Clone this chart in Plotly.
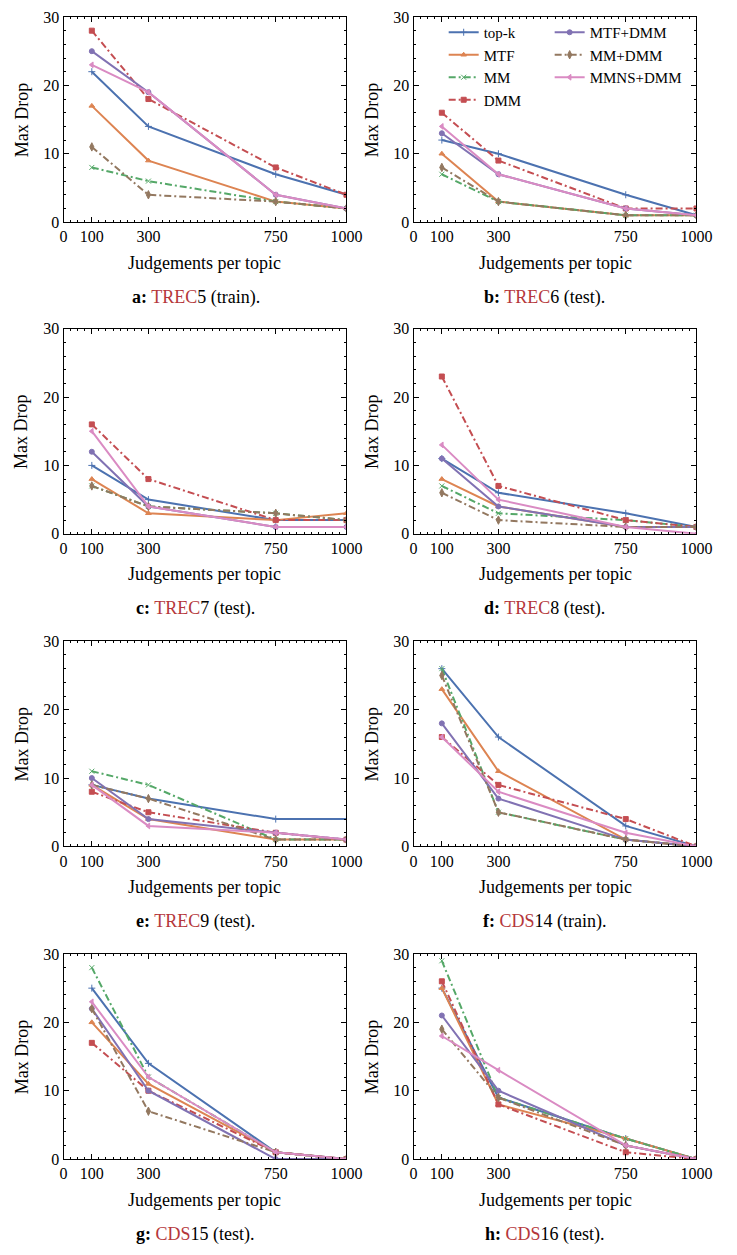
import plotly.graph_objects as go

# ---------------- data ----------------
judgements = [100, 300, 750, 1000]
x_tick_vals = [0, 100, 300, 750, 1000]
x_tick_text = ["0", "100", "300", "750", "1000"]
y_tick_vals = [0, 10, 20, 30]

panel_letters = ["a", "b", "c", "d", "e", "f", "g", "h"]
panel_collections = ["TREC", "TREC", "TREC", "TREC", "TREC", "CDS", "CDS", "CDS"]
panel_numbers = ["5", "6", "7", "8", "9", "14", "15", "16"]
panel_splits = ["train", "test", "test", "test", "test", "train", "test", "test"]

series_names = ["top-k", "MTF", "MM", "DMM", "MTF+DMM", "MM+DMM", "MMNS+DMM"]

# each row = one panel (a..h), values at 100, 300, 750, 1000 judgements
topk = [[22, 14, 7, 4], [12, 10, 4, 1], [10, 5, 2, 2], [11, 6, 3, 1],
        [9, 7, 4, 4], [26, 16, 3, 0], [25, 14, 1, 0], [25, 9, 3, 0]]
mtf = [[17, 9, 3, 2], [10, 3, 1, 1], [8, 3, 2, 3], [8, 4, 1, 1],
       [9, 4, 1, 1], [23, 11, 1, 0], [20, 11, 1, 0], [25, 8, 3, 0]]
mm = [[8, 6, 3, 2], [7, 3, 1, 1], [7, 4, 3, 2], [7, 3, 2, 1],
      [11, 9, 1, 1], [26, 5, 1, 0], [28, 12, 1, 0], [29, 9, 3, 0]]
dmm = [[28, 18, 8, 4], [16, 9, 2, 2], [16, 8, 2, 2], [23, 7, 2, 1],
       [8, 5, 2, 1], [16, 9, 4, 0], [17, 10, 1, 0], [26, 8, 1, 0]]
mtf_dmm = [[25, 19, 4, 2], [13, 7, 2, 1], [12, 4, 1, 1], [11, 4, 1, 1],
           [10, 4, 2, 1], [18, 7, 1, 0], [22, 10, 0, 0], [21, 10, 2, 0]]
mm_dmm = [[11, 4, 3, 2], [8, 3, 1, 1], [7, 4, 3, 2], [6, 2, 1, 1],
          [9, 7, 1, 1], [25, 5, 1, 0], [22, 7, 1, 0], [19, 9, 2, 0]]
mmns_dmm = [[23, 19, 4, 2], [14, 7, 2, 1], [15, 4, 1, 1], [13, 5, 1, 0],
            [9, 3, 2, 1], [16, 8, 2, 0], [23, 12, 1, 0], [18, 13, 2, 0]]

series_values = [topk, mtf, mm, dmm, mtf_dmm, mm_dmm, mmns_dmm]

# ---------------- styles ----------------
colors = ["#4c72b0", "#dd8452", "#55a868", "#c44e52", "#8172b3", "#937860", "#da8bc3"]
DASHDOT = "7px,3px,2px,3px"
dashes = ["solid", "solid", DASHDOT, DASHDOT, "solid", DASHDOT, "solid"]
symbols = ["cross-thin", "triangle-up", "x-thin", "square", "circle", "diamond-tall", "triangle-left"]
marker_sizes = [5, 5, 5, 5, 5, 6, 5]
legend_ids = ["legend", "legend", "legend", "legend", "legend2", "legend2", "legend2"]

# page geometry: the browser keeps an 8px body margin, so the figure is
# made smaller and all positions below are given in window pixels
PAGE_W, PAGE_H, BODY_MARGIN = 737, 1255, 8
W, H = PAGE_W - 2 * BODY_MARGIN, PAGE_H - 2 * BODY_MARGIN


def px_x(v):
    return (v - BODY_MARGIN) / W


def px_y(v):
    return 1 - (v - BODY_MARGIN) / H


col_left = [61, 421]
col_width = 291
row_top = [9, 325, 642, 959]
plot_h = 208
caption_center_x = [197, 556]
FONT = "Liberation Serif, Times New Roman, serif"
RED_TXT = "#b5373b"

fig = go.Figure()
layout = dict()
annotations = []

for p in range(8):
    r, c = divmod(p, 2)
    ax = "" if p == 0 else str(p + 1)
    x0 = px_x(col_left[c])
    x1 = px_x(col_left[c] + col_width)
    y1 = px_y(row_top[r])
    y0 = px_y(row_top[r] + plot_h)

    common = dict(showline=True, linecolor="black", linewidth=1, mirror="ticks",
                  ticks="inside", ticklen=5, tickcolor="black", showgrid=False,
                  zeroline=False, tickfont=dict(family=FONT, size=16, color="black"))
    layout["xaxis" + ax] = dict(domain=[x0, x1], anchor="y" + ax, range=[0, 1000],
                                tickmode="array", tickvals=x_tick_vals, ticktext=x_tick_text,
                                minor=dict(ticks="inside", ticklen=2, dtick=25, tickcolor="black"),
                                **common)
    layout["yaxis" + ax] = dict(domain=[y0, y1], anchor="x" + ax, range=[0, 30],
                                tickmode="array", tickvals=y_tick_vals,
                                minor=dict(ticks="inside", ticklen=2, dtick=2, tickcolor="black"),
                                **common)

    for s, name in enumerate(series_names):
        fig.add_trace(go.Scatter(
            x=judgements, y=series_values[s][p], name=name, mode="lines+markers",
            line=dict(color=colors[s], width=2, dash=dashes[s]),
            marker=dict(symbol=symbols[s], size=marker_sizes[s], color=colors[s],
                        line=dict(color=colors[s], width=1)),
            xaxis="x" + ax, yaxis="y" + ax,
            showlegend=(p == 1), legend=legend_ids[s], hoverinfo="skip"))

    # axis titles and captions
    annotations.append(dict(text="Judgements per topic", x=px_x(col_left[c] + col_width / 2),
                            y=px_y(row_top[r] + 249), xref="paper", yref="paper",
                            showarrow=False, xanchor="center", yanchor="middle",
                            font=dict(family=FONT, size=18, color="black")))
    annotations.append(dict(text="Max Drop", x=px_x(col_left[c] - 43),
                            y=px_y(row_top[r] + plot_h / 2), xref="paper", yref="paper",
                            showarrow=False, textangle=-90, xanchor="center", yanchor="middle",
                            font=dict(family=FONT, size=18, color="black")))
    caption = (f"<b>{panel_letters[p]}:</b> <span style='color:{RED_TXT}'>{panel_collections[p]}</span>"
               f"{panel_numbers[p]} ({panel_splits[p]}).")
    annotations.append(dict(text=caption, x=px_x(caption_center_x[c]),
                            y=px_y(row_top[r] + 284), xref="paper", yref="paper",
                            showarrow=False, xanchor="center", yanchor="middle",
                            font=dict(family=FONT, size=18, color="black")))

legend_common = dict(font=dict(family=FONT, size=15, color="black"), bgcolor="rgba(255,255,255,0)",
                     yanchor="top", xanchor="left", tracegroupgap=0, itemwidth=30)
fig.update_layout(
    width=W, height=H, margin=dict(l=0, r=0, t=0, b=0),
    paper_bgcolor="white", plot_bgcolor="white",
    font=dict(family=FONT, size=16, color="black"),
    legend=dict(x=px_x(452), y=px_y(8), **legend_common),
    legend2=dict(x=px_x(561), y=px_y(8), **legend_common),
    annotations=annotations,
    **layout)

fig.write_html("out.html", config={"displayModeBar": False})
